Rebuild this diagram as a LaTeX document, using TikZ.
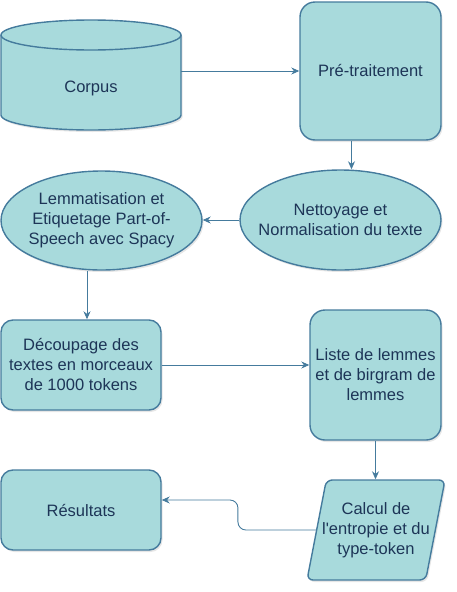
\documentclass[tikz,border=0pt]{standalone}
\usepackage{fontspec}
\setmainfont{Liberation Sans}
\usetikzlibrary{shapes.geometric,arrows.meta,shadows}
\definecolor{boxfill}{HTML}{A8DADC}
\definecolor{boxline}{HTML}{457B9D}
\definecolor{boxtext}{HTML}{1D3557}
\begin{document}
\begin{tikzpicture}[x=1pt,y=-1pt,
    every node/.style={font=\fontsize{16.5}{20}\selectfont,text=boxtext,align=center},
    box/.style={draw=boxline,fill=boxfill,line width=1.4pt,drop shadow={shadow xshift=1.5pt,shadow yshift=-2pt,opacity=0.2}},
    rbox/.style={box,rectangle,rounded corners=15pt},
    oval/.style={box,ellipse},
    link/.style={draw=boxline,line width=0.9pt,-{Stealth[length=8pt,width=7pt]}}]
  \useasboundingbox (0,0) rectangle (457,592);
  % cylinder by hand
  \path[box] (1,35) -- (1,115) arc[start angle=180,end angle=0,x radius=90,y radius=15]
    -- (181,35) arc[start angle=0,end angle=-180,x radius=90,y radius=15] -- cycle;
  \draw[boxline,line width=1.4pt] (1,35) arc[start angle=180,end angle=0,x radius=90,y radius=15];
  \node[minimum width=180pt,minimum height=110pt,label={[yshift=-13pt]center:Corpus}] (corpus) at (91,75) {};
  \node[rbox,minimum width=141pt,minimum height=138pt] (pre) at (370.5,71) {Pré-traitement};
  \node[oval,minimum width=201pt,minimum height=100pt,
    label=center:{Nettoyage et\\Normalisation du texte}] (nett) at (340.5,220) {};
  \node[oval,minimum width=201pt,minimum height=99pt,
    label=center:{Lemmatisation et\\Etiquetage Part-of-\\Speech avec Spacy}] (lemm) at (101.5,220.5) {};
  \node[rbox,rounded corners=12pt,minimum width=160pt,minimum height=90pt] (decoup) at (81,365)
    {Découpage des\\textes en morceaux\\de 1000 tokens};
  \node[rbox,minimum width=131pt,minimum height=130pt] (liste) at (375.5,375)
    {Liste de lemmes\\et de birgram de\\lemmes};
  \node[box,trapezium,trapezium left angle=79,trapezium right angle=101,trapezium stretches=true,
    rounded corners=6pt,minimum width=138pt,minimum height=100pt,
    label=center:{Calcul de\\l\textquotesingle entropie et du\\type-token}] (calc) at (376,530) {};
  \node[rbox,rounded corners=12pt,minimum width=160pt,minimum height=80pt] (res) at (81,510) {Résultats};

  \draw[link] (corpus.east |- pre.west) -- (pre.west);
  \draw[link] ([xshift=-19pt]pre.south) -- ([xshift=-19pt]pre.south |- nett.north);
  \draw[link] (nett.west) -- (lemm.east |- nett.west);
  \draw[link] ([xshift=6pt]decoup.north |- lemm.south) -- ([xshift=6pt]decoup.north);
  \draw[link] (decoup.east) -- (liste.west |- decoup.east);
  \draw[link] (liste.south) -- (liste.south |- calc.north);
  \draw[link,rounded corners=8pt] (calc.west) -- ++(-78,0) |- ([yshift=10pt]res.east);
\end{tikzpicture}
\end{document}
